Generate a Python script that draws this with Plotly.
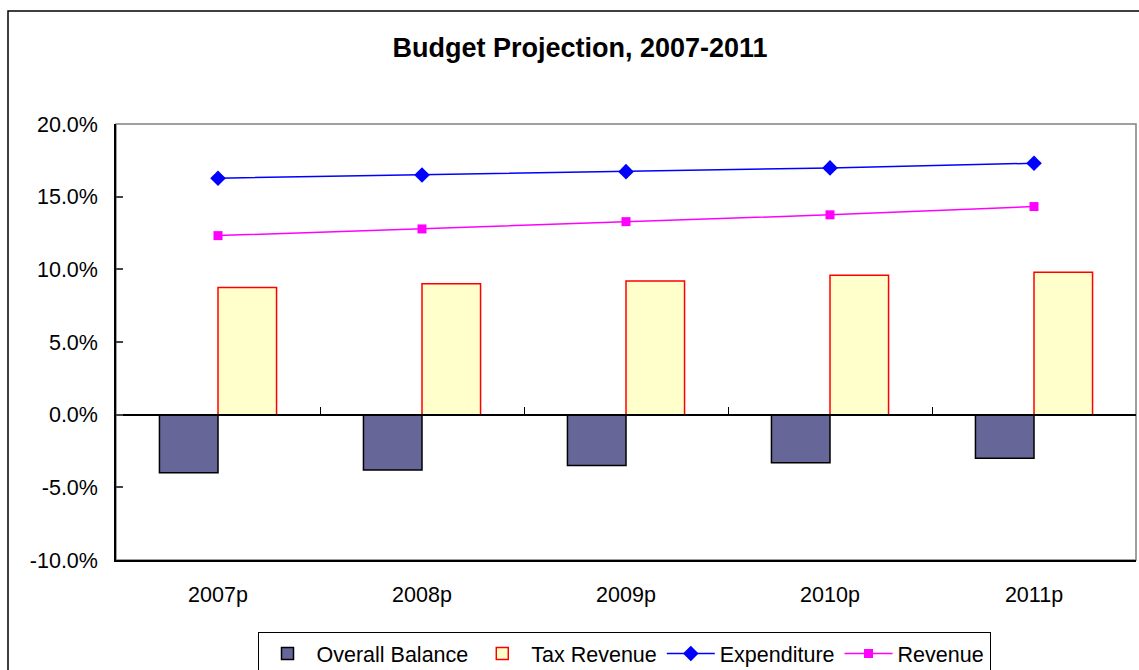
import plotly.graph_objects as go

# Budget projection, share of GDP (%)
years = ["2007p", "2008p", "2009p", "2010p", "2011p"]
overall_balance = [-4.0, -3.8, -3.5, -3.3, -3.0]
tax_revenue = [8.75, 9.0, 9.2, 9.6, 9.8]
expenditure = [16.27, 16.49, 16.72, 16.98, 17.3]
revenue = [12.32, 12.78, 13.28, 13.75, 14.32]
y_ticks = [-10, -5, 0, 5, 10, 15, 20]

FONT = "Liberation Sans, Arial, sans-serif"
W, H = 1139, 670
ML, MR, MT, MB = 116, 3, 124, 110
PW, PH = W - ML - MR, H - MT - MB

fig = go.Figure()

fig.add_trace(go.Bar(
    x=years, y=overall_balance, name="Overall Balance",
    marker=dict(color="#666699", line=dict(color="#000000", width=1.5)),
))
fig.add_trace(go.Bar(
    x=years, y=tax_revenue, name="Tax Revenue",
    marker=dict(color="#FFFFCC", line=dict(color="#FF0000", width=1.5)),
))
fig.add_trace(go.Scatter(
    x=years, y=expenditure, name="Expenditure", mode="lines+markers",
    line=dict(color="#0000FF", width=1.5),
    marker=dict(symbol="diamond", size=12, color="#0000FF"),
))
fig.add_trace(go.Scatter(
    x=years, y=revenue, name="Revenue", mode="lines+markers",
    line=dict(color="#FF00FF", width=1.5),
    marker=dict(symbol="square", size=9, color="#FF00FF"),
))
# carrier trace for the category axis drawn along the zero line
fig.add_trace(go.Scatter(
    x=years, y=overall_balance, xaxis="x2", mode="markers",
    marker=dict(opacity=0), showlegend=False, hoverinfo="skip",
))

y_min, y_max = y_ticks[0], y_ticks[-1]

fig.update_layout(
    width=W, height=H,
    margin=dict(l=ML, r=MR, t=MT, b=MB, autoexpand=False),
    paper_bgcolor="white", plot_bgcolor="white",
    font=dict(family=FONT, size=21, color="#000000"),
    title=dict(
        text="<b>Budget Projection, 2007-2011</b>",
        x=580 / W, xanchor="center", xref="container",
        y=1 - 48 / H, yanchor="middle", yref="container",
        font=dict(family=FONT, size=27, color="#000000"),
    ),
    barmode="group", bargap=0.426, bargroupgap=0,
    xaxis=dict(
        type="category", range=[-0.5, 4.5],
        showgrid=False, zeroline=False,
        showline=True, linecolor="#000000", linewidth=1.5,
        ticks="", ticklabelstandoff=14,
        tickfont=dict(size=21.5),
    ),
    xaxis2=dict(
        type="category", range=[-0.5, 4.5], overlaying="x",
        anchor="free", position=(0 - y_min) / (y_max - y_min),
        showgrid=False, zeroline=False, showticklabels=False,
        showline=True, linecolor="#000000", linewidth=1.5,
        ticks="inside", tickson="boundaries", ticklen=7,
        tickcolor="#000000", tickwidth=1,
    ),
    yaxis=dict(
        range=[y_min, y_max], tickvals=y_ticks,
        ticktext=[f"{v:.1f}%" for v in y_ticks],
        showgrid=False, zeroline=False,
        showline=True, linecolor="#000000", linewidth=1.5,
        ticks="inside", ticklen=7, tickcolor="#444444", tickwidth=1.5,
        ticklabelstandoff=12,
        tickfont=dict(size=21.5),
    ),
    legend=dict(
        orientation="h",
        x=(624 - ML) / PW, xanchor="center",
        y=(560 - 632) / PH, yanchor="top",
        bordercolor="#000000", borderwidth=1,
        font=dict(family=FONT, size=21.5),
        itemwidth=48, tracegroupgap=0,
    ),
    shapes=[
        # plot-area frame
        dict(type="rect", xref="paper", yref="paper", x0=0, x1=1, y0=0, y1=1,
             line=dict(color="#808080", width=1.5), layer="below"),
        # chart-area frame
        dict(type="rect", xref="paper", yref="paper",
             x0=(8 - ML) / PW, x1=(W + 20 - ML) / PW,
             y0=(MT + PH - (H + 20)) / PH, y1=(MT + PH - 11) / PH,
             line=dict(color="#000000", width=1.5), layer="below"),
    ],
)

fig.write_html("out.html")
